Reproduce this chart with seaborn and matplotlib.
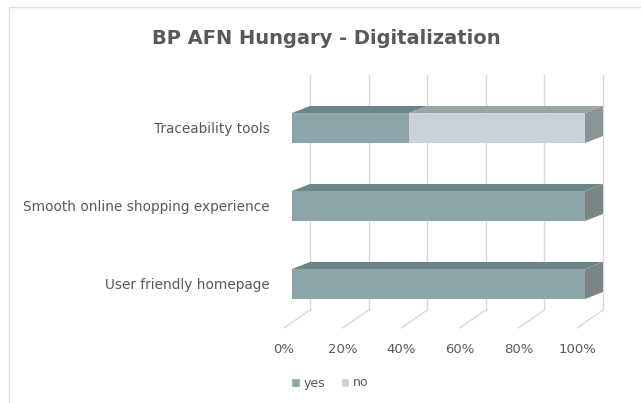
import matplotlib
matplotlib.use("Agg")
import matplotlib.pyplot as plt
from matplotlib import transforms
from matplotlib.patches import Polygon, Rectangle, Patch
import seaborn as sns
import pandas as pd

# data
categories = ["Traceability tools", "Smooth online shopping experience", "User friendly homepage"]
yes_pct = [40, 100, 100]
no_pct = [60, 0, 0]
x_ticks = [0, 20, 40, 60, 80, 100]
x_tick_labels = ["0%", "20%", "40%", "60%", "80%", "100%"]
series_names = ["yes", "no"]
title = "BP AFN Hungary - Digitalization"

# colours (front / top / side) for each series
YES_C, YES_TOP, YES_SIDE = "#8ca5ab", "#6c8688", "#7b8587"
NO_C, NO_TOP, NO_SIDE = "#c9d2d9", "#9aa4a8", "#8a9396"
TXT = "#595959"
GRID = "#d9d9d9"

sns.set_theme(style="white")
plt.rcParams["font.family"] = ["DejaVu Sans"]

W, H = 641, 403
fig = plt.figure(figsize=(W / 100, H / 100), dpi=100)
fig.patch.set_facecolor("white")
ax = fig.add_axes([292 / W, 1 - 323 / H, 293 / W, 234 / H])
ax.set_facecolor("none")

BAR_W = 0.385
df = pd.DataFrame({"cat": categories, "yes": yes_pct,
                   "total": [y + n for y, n in zip(yes_pct, no_pct)]})
sns.barplot(data=df, y="cat", x="total", color=NO_C, width=BAR_W, saturation=1,
            orient="h", ax=ax, zorder=3, linewidth=0)
sns.barplot(data=df, y="cat", x="yes", color=YES_C, width=BAR_W, saturation=1,
            orient="h", ax=ax, zorder=3, linewidth=0)
ax.set_xlim(0, 100)
ax.set_ylim(2.5, -0.5)

DX, DY = 18, 7  # depth offset in pixels


def shift(x, y, dx=DX, dy=DY):
    p = ax.transData.transform((x, y))
    return tuple(ax.transData.inverted().transform((p[0] + dx, p[1] + dy)))


# 3d-ish faces for each segment
for i, (y_v, n_v) in enumerate(zip(yes_pct, no_pct)):
    top = i - BAR_W / 2
    bot = i + BAR_W / 2
    segs = [(0, y_v, YES_TOP, YES_SIDE), (y_v, y_v + n_v, NO_TOP, NO_SIDE)]
    segs = [s for s in segs if s[1] > s[0]]
    for x0, x1, ctop, _ in segs:
        ax.add_patch(Polygon([(x0, top), (x1, top), shift(x1, top), shift(x0, top)],
                             closed=True, facecolor=ctop, edgecolor="none",
                             zorder=4, clip_on=False))
    x_end, side_c = segs[-1][1], segs[-1][3]
    ax.add_patch(Polygon([(x_end, top), (x_end, bot), shift(x_end, bot), shift(x_end, top)],
                         closed=True, facecolor=side_c, edgecolor="none",
                         zorder=4, clip_on=False))

# back wall gridlines and floor lines
back = transforms.offset_copy(ax.transData, fig=fig, x=DX, y=DY, units="dots")
ident = transforms.IdentityTransform()
for t in x_ticks:
    ax.plot([t, t], [-0.59, 2.423], transform=back, color=GRID, lw=1,
            clip_on=False, zorder=1)
    p = back.transform((t, 2.423))
    ax.plot([p[0], p[0] - 26], [p[1], p[1] - 18], transform=ident, color=GRID,
            lw=1, clip_on=False, zorder=1)

labels_tr = transforms.offset_copy(ax.transData, fig=fig, x=-8, y=0, units="dots")
for t, lab in zip(x_ticks, x_tick_labels):
    ax.text(t, 2.846, lab, transform=labels_tr, ha="center", va="center",
            fontsize=9.5, color=TXT)

ax.set_xticks([])
ax.set_xlabel("")
ax.set_ylabel("")
ax.tick_params(axis="y", length=0, pad=16, labelsize=9.8, labelcolor=TXT)
for s in ax.spines.values():
    s.set_visible(False)

fig.text(326 / W, 1 - 38 / H, title, ha="center", va="center",
         fontsize=14, fontweight="bold", color=TXT)

handles = [Patch(facecolor=YES_C), Patch(facecolor=NO_C)]
fig.legend(handles, series_names, loc="center", bbox_to_anchor=(330 / W, 1 - 383 / H),
           ncol=2, frameon=False, handlelength=0.7, handleheight=0.7,
           columnspacing=1.2, handletextpad=0.3, fontsize=9, labelcolor=TXT)

# chart frame
fig.add_artist(Rectangle((9 / W, -0.05), 1.0, 1 - 7 / H + 0.05, transform=fig.transFigure,
                         fill=False, edgecolor="#e0e0e0", lw=1))

fig.savefig("out.png", dpi=100)
